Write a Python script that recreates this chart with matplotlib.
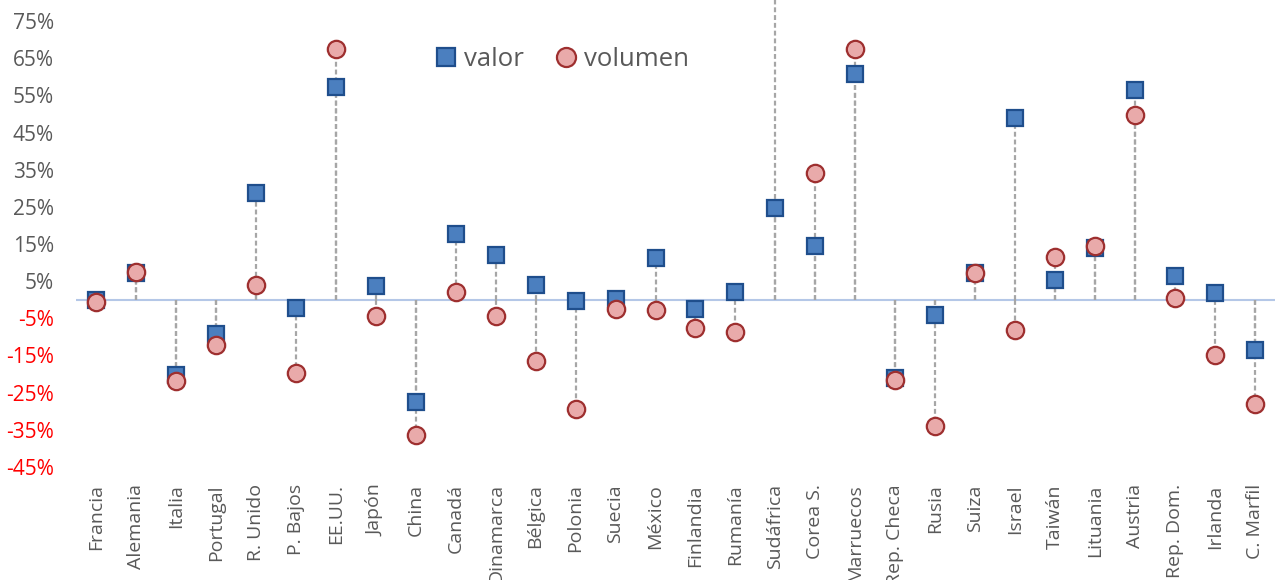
import numpy as np
import matplotlib
matplotlib.use("Agg")
import matplotlib.pyplot as plt
from matplotlib.ticker import FixedLocator, FuncFormatter

# -------- Data --------
countries = ["Francia", "Alemania", "Italia", "Portugal", "R. Unido", "P. Bajos",
             "EE.UU.", "Japón", "China", "Canadá", "Dinamarca", "Bélgica",
             "Polonia", "Suecia", "México", "Finlandia", "Rumanía", "Sudáfrica",
             "Corea S.", "Marruecos", "Rep. Checa", "Rusia", "Suiza", "Israel",
             "Taiwán", "Lituania", "Austria", "Rep. Dom.", "Irlanda", "C. Marfil"]

valor = [0.0, 7.1, -20.3, -9.1, 28.8, -2.1,
         57.4, 3.6, -27.5, 17.8, 12.0, 4.1,
         -0.3, 0.3, 11.3, -2.6, 2.1, 24.7,
         14.4, 60.8, -21.2, -4.2, 7.1, 49.0,
         5.4, 13.8, 56.5, 6.3, 1.7, -13.6]

# Sudáfrica volumen lies above the top of the chart
volumen = [-0.5, 7.6, -21.9, -12.3, 3.9, -19.7,
           67.4, -4.3, -36.3, 2.1, -4.4, -16.6,
           -29.3, -2.4, -2.8, -7.6, -8.8, 95.0,
           34.0, 67.4, -21.7, -34.0, 7.3, -8.2,
           11.4, 14.5, 49.7, 0.5, -15.0, -28.0]

y_ticks = [-45, -35, -25, -15, -5, 5, 15, 25, 35, 45, 55, 65, 75]

# -------- Style --------
FONT = ["Open Sans", "DejaVu Sans"]
plt.rcParams["font.family"] = FONT
GRAY_TXT = "#595959"
DROP = "#a6a6a6"
SQ_FACE, SQ_EDGE = "#4b7fbf", "#1f4e8c"
CI_FACE, CI_EDGE = "#e9aaaa", "#9e2f2f"

fig = plt.figure(figsize=(12.75, 5.8), dpi=100)
ax = fig.add_axes([0.0596, 0.195, 0.9404, 0.805])

x = np.arange(len(countries))

# drop lines from zero to each marker
ax.vlines(x, 0, valor, colors=DROP, linestyles=(0, (2.2, 1.3)), linewidth=1.6, zorder=1)
ax.vlines(x, 0, volumen, colors=DROP, linestyles=(0, (2.2, 1.3)), linewidth=1.6, zorder=1)

ax.axhline(0, color="#b4c7e7", linewidth=1.5, zorder=0.5)

ax.plot(x, valor, linestyle="none", marker="s", markersize=12,
        markerfacecolor=SQ_FACE, markeredgecolor=SQ_EDGE, markeredgewidth=1.6,
        label="valor", zorder=3)
ax.plot(x, volumen, linestyle="none", marker="o", markersize=12.5,
        markerfacecolor=CI_FACE, markeredgecolor=CI_EDGE, markeredgewidth=1.6,
        label="volumen", zorder=4)

ax.set_xlim(-0.5, len(countries) - 0.5)
ax.set_ylim(-45, 80.7)

ax.yaxis.set_major_locator(FixedLocator(y_ticks))
ax.yaxis.set_major_formatter(FuncFormatter(lambda v, p: f"{v:.0f}%"))
ax.set_xticks(x)
ax.set_xticklabels(countries, rotation=90, fontsize=14, color=GRAY_TXT)
ax.tick_params(axis="both", length=0)
ax.tick_params(axis="x", pad=12.5)
ax.tick_params(axis="y", labelsize=15, pad=16)
for lbl, v in zip(ax.get_yticklabels(), y_ticks):
    lbl.set_color("#ff0000" if v < 0 else GRAY_TXT)

for s in ax.spines.values():
    s.set_visible(False)

leg = ax.legend(loc="center left", bbox_to_anchor=(0.287, 0.872), ncol=2,
                frameon=False, fontsize=18.5, handletextpad=0.2, borderpad=0,
                columnspacing=1.15, handlelength=1.0, markerscale=1.1)
for t in leg.get_texts():
    t.set_color(GRAY_TXT)

fig.savefig("out.png", dpi=100)
